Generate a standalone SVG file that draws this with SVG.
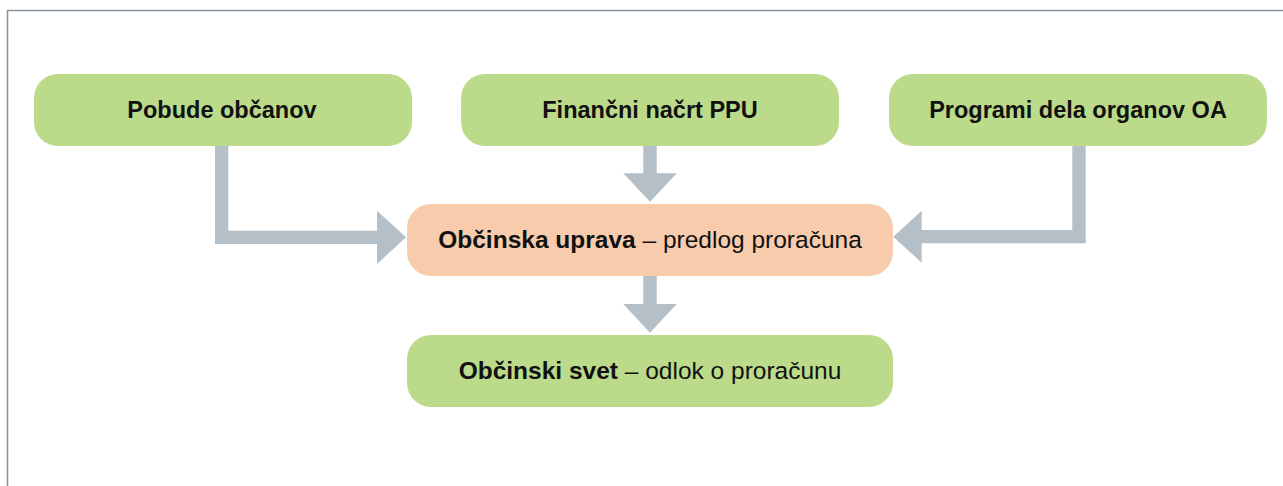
<svg xmlns="http://www.w3.org/2000/svg" width="1283" height="486" viewBox="0 0 1283 486">
<style>
.green{fill:#bbdb8b}
.orange{fill:#f8cbad}
.arrow{fill:#b4bfc7}
text{font-family:"Liberation Sans",Arial,sans-serif;fill:#111;text-anchor:middle}
.b{font-weight:bold}
.t{font-size:23.5px}
.m{font-size:24.5px}
</style>
<rect x="0" y="0" width="1283" height="486" fill="#ffffff"/>
<path d="M7.5,486 V10.5 H1283" fill="none" stroke="#8a969e" stroke-width="1.6"/>
<g id="connectors">
<path class="arrow" d="M215,146 H228.3 V230.7 H377 V210.7 L406,237.3 L377,264 V244 H215 Z"/>
<path class="arrow" d="M643.3,146 H656.7 V173.3 H676.7 L650,201.7 L623.3,173.3 H643.3 Z"/>
<path class="arrow" d="M1085.7,146 H1072.3 V230 H921.7 V210.7 L893.3,236.7 L921.7,262.7 V243.3 H1085.7 Z"/>
<path class="arrow" d="M643.3,276 H656.7 V304 H676.7 L650,332.7 L623.3,304 H643.3 Z"/>
</g>
<g id="n1"><rect class="green" x="34" y="74" width="378" height="72" rx="24"/><text class="t b" x="222" y="118">Pobude občanov</text></g>
<g id="n2"><rect class="green" x="461" y="74" width="378" height="72" rx="24"/><text class="t b" x="650" y="118">Finančni načrt PPU</text></g>
<g id="n3"><rect class="green" x="889" y="74" width="378" height="72" rx="24"/><text class="t b" x="1078" y="118">Programi dela organov OA</text></g>
<g id="n4"><rect class="orange" x="407" y="204" width="486" height="72" rx="24"/><text class="m" x="650" y="248"><tspan class="b">Občinska uprava</tspan> – predlog proračuna</text></g>
<g id="n5"><rect class="green" x="407" y="335" width="486" height="72" rx="24"/><text class="m" x="650" y="379"><tspan class="b">Občinski svet</tspan> – odlok o proračunu</text></g>
</svg>
